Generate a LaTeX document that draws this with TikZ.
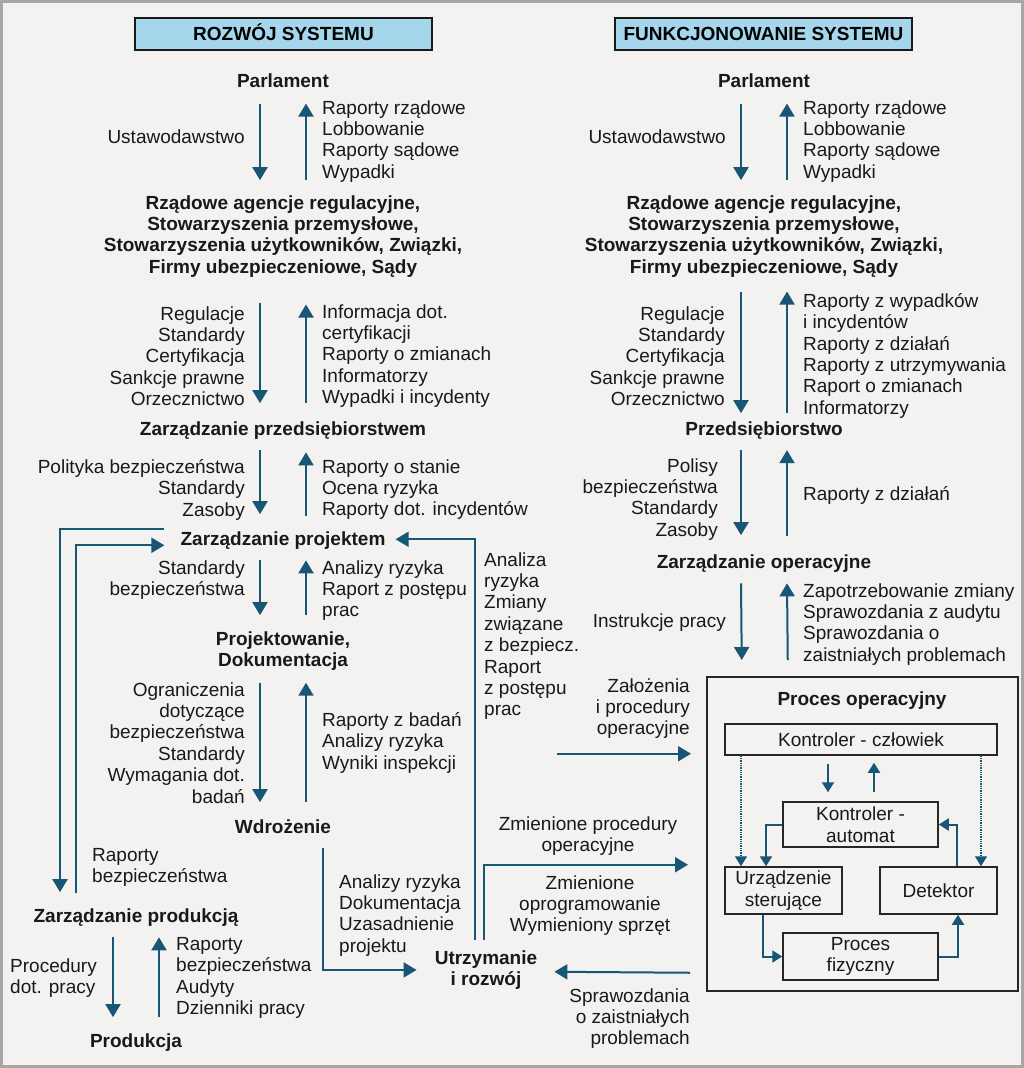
\documentclass[tikz,border=0pt]{standalone}
\usepackage{fontspec}
\setmainfont{Liberation Sans}
\usetikzlibrary{arrows.meta,positioning}

\definecolor{flowblue}{RGB}{24,86,118}
\definecolor{headblue}{RGB}{166,214,236}
\definecolor{paper}{RGB}{243,242,241}

\tikzset{
  txt/.style={inner sep=0pt, font=\fontsize{19}{21.4}\selectfont, text=black!90},
  lbl/.style={txt, align=left, anchor=north west},
  lblr/.style={txt, align=right, anchor=north east},
  lvl/.style={txt, font=\fontsize{19}{21.4}\selectfont\bfseries, align=center, anchor=north},
  head/.style={draw=black!90, line width=1.5pt, fill=headblue, minimum width=297pt,
    minimum height=32pt, inner sep=0pt, font=\fontsize{19}{21.4}\selectfont\bfseries,
    text height=13.6pt, text depth=0pt},
  blk/.style={draw=black!85, line width=1.5pt, fill=paper, inner sep=0pt, align=center,
    font=\fontsize{19}{21.4}\selectfont, text=black!90},
  flow/.style={draw=flowblue, line width=2pt, -{Triangle[width=15pt,length=13pt]}},
  sflow/.style={draw=flowblue, line width=2pt, -{Triangle[width=12pt,length=10pt]}},
  dflow/.style={draw=flowblue, line width=1.3pt, densely dotted, -{Triangle[width=12pt,length=10pt]}},
}

\begin{document}
\begin{tikzpicture}[x=1pt,y=-1pt]
                \useasboundingbox (0,0) rectangle (1024,1068);
                % Background
                \fill[paper] (0,0) rectangle (1024,1068);
                \draw[black!35, line width=3pt] (1.5,1.5) rectangle (1022.5,1066.5);

                % Headers
                \node[head] (hdrL) at (283.5,34) {ROZWÓJ SYSTEMU};
                \node[head] (hdrR) at (763.5,34) {FUNKCJONOWANIE SYSTEMU};

                % Left column
                \node[lvl] (parlL) at (283,73.2) {Parlament};
                \node[lblr] (ustL) at (245,129.2) {Ustawodawstwo};
                \node[lbl] (rapL) at (322,100.2) {Raporty rządowe\\Lobbowanie\\Raporty sądowe\\Wypadki};
                \node[lvl] (rzadL) at (283,195.2) {Rządowe agencje regulacyjne,\\Stowarzyszenia przemysłowe,\\Stowarzyszenia użytkowników, Związki,\\Firmy ubezpieczeniowe, Sądy};
                \node[lblr] (regL) at (245,306.2) {Regulacje\\Standardy\\Certyfikacja\\Sankcje prawne\\Orzecznictwo};
                \node[lbl] (infL) at (322,304.2) {Informacja dot.\\certyfikacji\\Raporty o zmianach\\Informatorzy\\Wypadki i incydenty};
                \node[lvl] (przedL) at (283,421.2) {Zarządzanie przedsiębiorstwem};
                \node[lblr] (polL) at (245,459.2) {Polityka bezpieczeństwa\\Standardy\\Zasoby};
                \node[lbl] (stanL) at (322,459.2) {Raporty o stanie\\Ocena ryzyka\\Raporty dot. incydentów};
                \node[lvl] (projL) at (283,531.2) {Zarządzanie projektem};
                \node[lblr] (sbL) at (245,560.2) {Standardy\\bezpieczeństwa};
                \node[lbl] (anL) at (322,560.2) {Analizy ryzyka\\Raport z postępu\\prac};
                \node[lvl] (dokL) at (283,631.2) {Projektowanie,\\Dokumentacja};
                \node[lblr] (ogrL) at (245,682.2) {Ograniczenia\\dotyczące\\bezpieczeństwa\\Standardy\\Wymagania dot.\\badań};
                \node[lbl] (badL) at (322,712.2) {Raporty z badań\\Analizy ryzyka\\Wyniki inspekcji};
                \node[lvl] (wdrL) at (283,819.2) {Wdrożenie};
                \node[lbl] (rbL) at (92,848.2) {Raporty\\bezpieczeństwa};
                \node[lvl] (prodzL) at (136,908.2) {Zarządzanie produkcją};
                \node[lbl] (procL) at (10,958.2) {Procedury\\dot. pracy};
                \node[lbl] (audL) at (176,937.2) {Raporty\\bezpieczeństwa\\Audyty\\Dzienniki pracy};
                \node[lvl] (prodL) at (136,1033.2) {Produkcja};

                % Middle
                \node[lbl] (anaL) at (484,552.2) {Analiza\\ryzyka\\Zmiany\\związane\\z bezpiecz.\\Raport\\z postępu\\prac};
                \node[lbl] (dokuL) at (339,874.2) {Analizy ryzyka\\Dokumentacja\\Uzasadnienie\\projektu};
                \node[lvl] (utrL) at (486,950.2) {Utrzymanie\\i rozwój};
                \node[txt, align=center, anchor=north] (zmpL) at (588,816.2) {Zmienione procedury\\operacyjne};
                \node[txt, align=center, anchor=north] (zmoL) at (590,875.2) {Zmienione\\oprogramowanie\\Wymieniony sprzęt};
                \node[lblr] (sprL) at (690,988.2) {Sprawozdania\\o zaistniałych\\problemach};
                \node[lblr] (zalL) at (690,678.2) {Założenia\\i procedury\\operacyjne};

                % Right column
                \node[lvl] (parlR) at (764,73.2) {Parlament};
                \node[lblr] (ustR) at (726,129.2) {Ustawodawstwo};
                \node[lbl] (rapR) at (803,100.2) {Raporty rządowe\\Lobbowanie\\Raporty sądowe\\Wypadki};
                \node[lvl] (rzadR) at (764,195.2) {Rządowe agencje regulacyjne,\\Stowarzyszenia przemysłowe,\\Stowarzyszenia użytkowników, Związki,\\Firmy ubezpieczeniowe, Sądy};
                \node[lblr] (regR) at (725,306.2) {Regulacje\\Standardy\\Certyfikacja\\Sankcje prawne\\Orzecznictwo};
                \node[lbl] (wypR) at (803,293.2) {Raporty z wypadków\\i incydentów\\Raporty z działań\\Raporty z utrzymywania\\Raport o zmianach\\Informatorzy};
                \node[lvl] (przR) at (764,421.2) {Przedsiębiorstwo};
                \node[lblr] (polR) at (718,458.2) {Polisy\\bezpieczeństwa\\Standardy\\Zasoby};
                \node[lbl] (dzR) at (803,486.2) {Raporty z działań};
                \node[lvl] (opR) at (764,554.2) {Zarządzanie operacyjne};
                \node[lblr] (insR) at (726,613.2) {Instrukcje pracy};
                \node[lbl] (zapR) at (803,583.2) {Zapotrzebowanie zmiany\\Sprawozdania z audytu\\Sprawozdania o\\zaistniałych problemach};

                % Operational process
                \node[draw=black!85, line width=1.5pt, minimum width=311pt, minimum height=314pt,
                  anchor=north west, inner sep=0pt] (opbox) at (706,676) {};
                \node[lvl] (opT) at (862,691.2) {Proces operacyjny};
                \node[blk, minimum width=272pt, minimum height=31pt] (kcz) at (861,739.5) {Kontroler - człowiek};
                \node[blk, minimum width=155pt, minimum height=45pt] (kau) at (860.5,824.5) {Kontroler -\\automat};
                \node[blk, minimum width=117pt, minimum height=47pt] (urz) at (783.5,890.5) {Urządzenie\\sterujące};
                \node[blk, minimum width=117pt, minimum height=47pt] (det) at (938.5,890.5) {Detektor};
                \node[blk, minimum width=155pt, minimum height=47pt] (pf) at (860.5,956.5) {Proces\\fizyczny};

                % Arrows, left column
                \draw[flow] ([shift={(-23,16)}]parlL.south) -- ([shift={(-23,-15)}]rzadL.north);
                \draw[flow] ([shift={(23,-15)}]rzadL.north) -- ([shift={(23,16)}]parlL.south);
                \draw[flow] ([shift={(-23,25)}]rzadL.south) -- ([shift={(-23,-18)}]przedL.north);
                \draw[flow] ([shift={(23,-18)}]przedL.north) -- ([shift={(23,27)}]rzadL.south);
                \draw[flow] ([shift={(-23,11)}]przedL.south) -- ([shift={(-23,-17)}]projL.north);
                \draw[flow] ([shift={(23,-15)}]projL.north) -- ([shift={(23,13)}]przedL.south);
                \draw[flow] ([shift={(-23,11)}]projL.south) -- ([shift={(-23,-16)}]dokL.north);
                \draw[flow] ([shift={(23,-16)}]dokL.north) -- ([shift={(23,11)}]projL.south);
                \draw[flow] ([shift={(-23,12)}]dokL.south) -- ([shift={(-23,-17)}]wdrL.north);
                \draw[flow] ([shift={(23,-17)}]wdrL.north) -- ([shift={(23,12)}]dokL.south);
                \draw[flow] ([shift={(-23,11)}]prodzL.south) -- ([shift={(-23,-16)}]prodL.north);
                \draw[flow] ([shift={(23,-16)}]prodL.north) -- ([shift={(23,11)}]prodzL.south);
                % Feedback loops
                \draw[flow] ([shift={(-16,-11)}]projL.west) -| ([shift={(-76,-16)}]prodzL.north);
                \draw[flow] ([shift={(-60,-15)}]prodzL.north) |- ([shift={(-16,5)}]projL.west);
                \draw[flow] ([shift={(-11,-10)}]utrL.north) |- ([shift={(10,-1)}]projL.east);
                \draw[flow] ([shift={(40,14)}]wdrL.south) |- ([shift={(-18,0)}]utrL.west);
                \draw[flow] ([shift={(-2,-10)}]utrL.north) |- ([shift={(-18,31)}]opbox.west);
                \draw[flow] ([shift={(-16,139)}]opbox.west) -- ([shift={(17,1.8)}]utrL.east);
                \draw[flow] ([shift={(-149,-80)}]opbox.west) -- ([shift={(-15,-80)}]opbox.west);

                % Arrows, right column
                \draw[flow] ([shift={(-23,16)}]parlR.south) -- ([shift={(-23,-15)}]rzadR.north);
                \draw[flow] ([shift={(23,-15)}]rzadR.north) -- ([shift={(23,16)}]parlR.south);
                \draw[flow] ([shift={(-23,14)}]rzadR.south) -- ([shift={(-23,-8)}]przR.north);
                \draw[flow] ([shift={(23,-8)}]przR.north) -- ([shift={(23,14)}]rzadR.south);
                \draw[flow] ([shift={(-23,11)}]przR.south) -- ([shift={(-23,-19)}]opR.north);
                \draw[flow] ([shift={(23,-18)}]opR.north) -- ([shift={(23,11)}]przR.south);
                \draw[flow] ([shift={(-23,11)}]opR.south) -- ([shift={(-120.5,-16)}]opbox.north);
                \draw[flow] ([shift={(-74.5,-16)}]opbox.north) -- ([shift={(23,11)}]opR.south);

                % Inside the process
                \draw[sflow] ([shift={(-33,8)}]kcz.south) -- ([shift={(-32.5,-9)}]kau.north);
                \draw[sflow] ([shift={(13.5,-9)}]kau.north) -- ([shift={(13,7)}]kcz.south);
                \draw[dflow] ([xshift=-120pt]kcz.south) -- ([xshift=-42.5pt]urz.north);
                \draw[dflow] ([xshift=120pt]kcz.south) -- ([xshift=42.5pt]det.north);
                \draw[sflow] (kau.west) -| ([xshift=-17.5pt]urz.north);
                \draw[sflow] ([xshift=-20.5pt]urz.south) |- (pf.west);
                \draw[sflow] (pf.east) -| ([xshift=19.5pt]det.south);
                \draw[sflow] ([xshift=18.5pt]det.north) |- (kau.east);
\end{tikzpicture}
\end{document}
